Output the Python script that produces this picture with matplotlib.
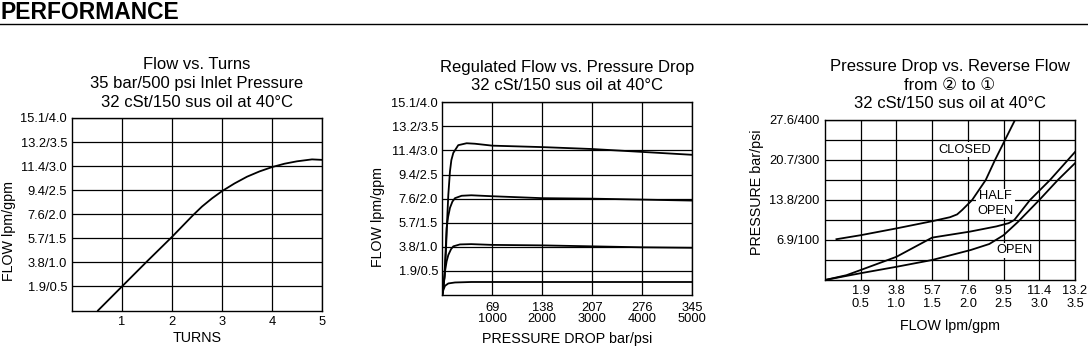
import matplotlib
matplotlib.use("Agg")
import matplotlib.pyplot as plt
from matplotlib.ticker import FixedLocator

plt.rcParams['font.family'] = ['Liberation Sans', 'DejaVu Sans']

# ---- chart 1: flow vs turns ----
turns = [0.52, 1.0, 1.5, 2.0, 2.42, 2.6, 2.8, 3.0, 3.25, 3.5, 3.75, 4.0, 4.25, 4.5, 4.8, 5.0]
turns_flow = [0.0, 0.5, 1.02, 1.53, 1.98, 2.16, 2.33, 2.48, 2.64, 2.78, 2.89, 2.98, 3.05, 3.1, 3.14, 3.13]

# ---- chart 2: regulated flow vs pressure drop (bar) ----
reg_top_p = [0, 3, 5, 6.5, 8.3, 10.6, 12.5, 15.2, 22, 33.6, 45, 69, 138, 207, 276, 345]
reg_top_q = [0, 0.35, 0.9, 1.5, 2.08, 2.57, 2.8, 2.95, 3.11, 3.15, 3.14, 3.10, 3.07, 3.03, 2.97, 2.91]
reg_mid_p = [0, 3, 6, 8, 10.6, 14, 17.5, 26.7, 40, 69, 138, 207, 276, 345]
reg_mid_q = [0, 0.4, 1.39, 1.62, 1.81, 1.94, 2.01, 2.06, 2.07, 2.05, 2.01, 2.0, 1.98, 1.96]
reg_low_p = [0, 1.4, 3.7, 6, 8.3, 12, 15.2, 24.4, 40, 69, 138, 207, 276, 345]
reg_low_q = [0, 0.14, 0.49, 0.7, 0.83, 0.95, 1.01, 1.05, 1.056, 1.04, 1.03, 1.01, 0.99, 0.98]
reg_min_p = [0, 1.4, 3.7, 8.3, 17.5, 40, 345]
reg_min_q = [0, 0.1, 0.19, 0.24, 0.26, 0.27, 0.27]

# ---- chart 3: pressure drop vs reverse flow (gpm / psi) ----
closed_q = [0.16, 0.5, 1.0, 1.5, 1.75, 1.85, 1.92, 2.06, 2.25, 2.38, 2.52, 2.66, 2.72]
closed_p = [102, 112, 129, 147, 157, 164, 175, 200, 250, 300, 350, 400, 425]
half_q = [0, 0.3, 0.5, 1.0, 1.5, 2.03, 2.4, 2.57, 2.65, 2.87, 3.15, 3.5]
half_p = [0, 12, 25, 58, 106, 121, 134, 142, 150, 200, 250, 320]
open_q = [0, 0.5, 1.0, 1.5, 2.04, 2.3, 2.5, 2.7, 3.0, 3.26, 3.5]
open_p = [0, 17, 33, 50, 75, 90, 112, 145, 200, 250, 292]

flow_ticks = [0.5, 1.0, 1.5, 2.0, 2.5, 3.0, 3.5, 4.0]
flow_labels = ["1.9/0.5", "3.8/1.0", "5.7/1.5", "7.6/2.0", "9.4/2.5", "11.4/3.0", "13.2/3.5", "15.1/4.0"]
turn_ticks = [1, 2, 3, 4, 5]
dp_ticks = [69, 138, 207, 276, 345]
dp_labels = ["69\n1000", "138\n2000", "207\n3000", "276\n4000", "345\n5000"]
rev_ticks = [0.5, 1.0, 1.5, 2.0, 2.5, 3.0, 3.5]
rev_labels = ["1.9\n0.5", "3.8\n1.0", "5.7\n1.5", "7.6\n2.0", "9.5\n2.5", "11.4\n3.0", "13.2\n3.5"]
psi_ticks = [100, 200, 300, 400]
psi_labels = ["6.9/100", "13.8/200", "20.7/300", "27.6/400"]
psi_minor = [50, 150, 250, 350]

W, H = 1088, 347
fig = plt.figure(figsize=(W / 100, H / 100), dpi=100)

fig.text(1 / W, 1 - 1 / H, "PERFORMANCE", fontsize=16.5, weight="bold", va="top", ha="left")
fig.add_artist(plt.Line2D([0, 1], [1 - 24 / H, 1 - 24 / H], color="black", lw=1.0))


def box(l, t, r, b):
    return fig.add_axes([l / W, 1 - b / H, (r - l) / W, (b - t) / H])


def style(ax):
    ax.grid(True, which="both", color="black", lw=0.9)
    ax.set_axisbelow(True)
    ax.tick_params(which="both", length=0, labelsize=9.3)
    for s in ax.spines.values():
        s.set_linewidth(1.0)


# chart 1
ax1 = box(72, 118, 322, 310.5)
ax1.plot(turns, turns_flow, color="black", lw=1.3)
ax1.set_xlim(0, 5)
ax1.set_ylim(0, 4)
ax1.set_xticks(turn_ticks)
ax1.set_yticks(flow_ticks, flow_labels)
style(ax1)
ax1.tick_params(axis="x", pad=4.3)
ax1.tick_params(axis="y", pad=3.5)
ax1.set_title("Flow vs. Turns\n35 bar/500 psi Inlet Pressure\n32 cSt/150 sus oil at 40°C",
              fontsize=12, pad=8, linespacing=1.32)
ax1.set_xlabel("TURNS", fontsize=10.3)
ax1.set_ylabel("FLOW lpm/gpm", fontsize=10.3)
ax1.xaxis.label.set_va("center")
ax1.yaxis.label.set_va("center")
ax1.xaxis.set_label_coords(0.5, -0.145)
ax1.yaxis.set_label_coords(-0.251, 0.413)

# chart 2
ax2 = box(442.3, 102.3, 692.3, 295)
for p, q in [(reg_top_p, reg_top_q), (reg_mid_p, reg_mid_q),
             (reg_low_p, reg_low_q), (reg_min_p, reg_min_q)]:
    ax2.plot(p, q, color="black", lw=1.3)
ax2.set_xlim(0, 345)
ax2.set_ylim(0, 4)
ax2.set_xticks(dp_ticks, dp_labels, linespacing=0.95)
ax2.set_yticks(flow_ticks, flow_labels)
style(ax2)
ax2.tick_params(axis="x", pad=5)
ax2.tick_params(axis="y", pad=3.0)
ax2.set_title("Regulated Flow vs. Pressure Drop\n32 cSt/150 sus oil at 40°C",
              fontsize=12, pad=9, linespacing=1.25)
ax2.set_xlabel("PRESSURE DROP bar/psi", fontsize=10.3)
ax2.set_ylabel("FLOW lpm/gpm", fontsize=10.3)
ax2.xaxis.label.set_va("center")
ax2.yaxis.label.set_va("center")
ax2.xaxis.set_label_coords(0.5, -0.228)
ax2.yaxis.set_label_coords(-0.257, 0.405)

# chart 3
ax3 = box(825, 120, 1075, 280)
ax3.plot(closed_q, closed_p, color="black", lw=1.3)
ax3.plot(half_q, half_p, color="black", lw=1.3)
ax3.plot(open_q, open_p, color="black", lw=1.3)
ax3.set_xlim(0, 3.5)
ax3.set_ylim(0, 400)
ax3.set_xticks(rev_ticks, rev_labels, linespacing=1.15)
ax3.set_yticks(psi_ticks, psi_labels)
ax3.yaxis.set_minor_locator(FixedLocator(psi_minor))
style(ax3)
ax3.tick_params(axis="x", pad=3.6)
ax3.tick_params(axis="y", pad=4.0)
lbl = dict(fontsize=9.3, ha="center", va="center", linespacing=1.3, zorder=1.5,
           bbox=dict(facecolor="white", edgecolor="none", pad=1.0))
ax3.text(1.96, 326, "CLOSED", **lbl)
ax3.text(2.39, 191, "HALF\nOPEN", **lbl)
ax3.text(2.65, 74, "OPEN", **lbl)
ax3.set_title("Pressure Drop vs. Reverse Flow\nfrom ② to ①\n32 cSt/150 sus oil at 40°C",
              fontsize=12, pad=8.5, linespacing=1.3)
ax3.set_xlabel("FLOW lpm/gpm", fontsize=10.3)
ax3.set_ylabel("PRESSURE bar/psi", fontsize=10.3)
ax3.xaxis.label.set_va("center")
ax3.yaxis.label.set_va("center")
ax3.xaxis.set_label_coords(0.5, -0.285)
ax3.yaxis.set_label_coords(-0.272, 0.55)

fig.savefig("out.png", dpi=100)
